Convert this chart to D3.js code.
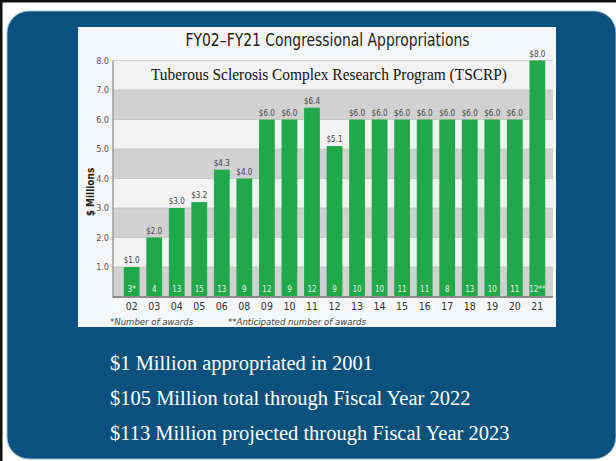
<!DOCTYPE html>
<html><head><meta charset="utf-8">
<script src="https://cdn.jsdelivr.net/npm/d3@7"></script>
<style>body{margin:0;background:#fff}svg{display:block}</style>
</head><body>
<script>
const categories = ["02","03","04","05","06","08","09","10","11","12","13","14","15","16","17","18","19","20","21"];
const values = [1.0,2.0,3.0,3.2,4.3,4.0,6.0,6.0,6.4,5.1,6.0,6.0,6.0,6.0,6.0,6.0,6.0,6.0,8.0];
const awards = ["3*","4","13","15","13","9","12","9","12","9","10","10","11","11","8","13","10","11","12**"];
const yTicks = [1,2,3,4,5,6,7,8];
const title = "FY02\u2013FY21 Congressional Appropriations";
const subtitle = "Tuberous Sclerosis Complex Research Program (TSCRP)";
const notes = ["*Number of awards", "**Anticipated number of awards"];
const bullets = ["$1 Million appropriated in 2001", "$105 Million total through Fiscal Year 2022", "$113 Million projected through Fiscal Year 2023"];

const W = 616, H = 461;
const svg = d3.select("body").append("svg").attr("width", W).attr("height", H);

// frame
svg.append("rect").attr("x",0).attr("y",0).attr("width",W).attr("height",H).attr("fill","#fff");
svg.append("rect").attr("x",0).attr("y",0).attr("width",W).attr("height",2.5).attr("fill","#111");
svg.append("rect").attr("x",0).attr("y",0).attr("width",2.5).attr("height",H).attr("fill","#111");
svg.append("rect").attr("x",7).attr("y",11).attr("width",609).attr("height",448).attr("rx",22)
  .attr("fill","#0a527d").attr("stroke","#8fbfd2").attr("stroke-width",1);

// chart panel
svg.append("rect").attr("x",78).attr("y",27).attr("width",478).attr("height",300).attr("fill","#f5f6f8");

const condensed = "'Liberation Sans Narrow','DejaVu Sans Condensed','Roboto Condensed',Arial,sans-serif";
const serif = "'Liberation Serif','Times New Roman',serif";

const plotL = 113, plotR = 553;
const y = d3.scaleLinear().domain([0, 8]).range([296.5, 60.5]);
const x = d3.scaleBand().domain(categories).range([117, 552]).padding(0.3);

// bands
const bandIdx = d3.range(0, 8);
svg.append("g").selectAll("rect").data(bandIdx).join("rect")
  .attr("x", plotL).attr("width", plotR - plotL)
  .attr("y", d => y(d + 1)).attr("height", d => y(d) - y(d + 1))
  .attr("fill", d => d % 2 === 0 ? "#d1d1d1" : "#f2f2f2");
svg.append("g").selectAll("line").data(yTicks).join("line")
  .attr("x1", plotL).attr("x2", plotR).attr("y1", d => y(d)).attr("y2", d => y(d))
  .attr("stroke", "#c2c2c2").attr("stroke-width", 0.8);

// subtitle
svg.append("text").attr("x", 329).attr("y", 80).attr("text-anchor","middle")
  .attr("font-family", serif).attr("font-size", 17).attr("fill","#111")
  .attr("textLength", 356).attr("lengthAdjust","spacingAndGlyphs").text(subtitle);

// title
svg.append("text").attr("x", 327.5).attr("y", 46).attr("text-anchor","middle")
  .attr("font-family", condensed).attr("font-size", 17).attr("fill","#222")
  .attr("textLength", 284).attr("lengthAdjust","spacingAndGlyphs").text(title);

// bars
svg.append("g").selectAll("rect").data(values).join("rect")
  .attr("x", (d,i) => x(categories[i])).attr("width", x.bandwidth())
  .attr("y", d => y(d)).attr("height", d => y(0) - y(d))
  .attr("fill", "#20a84a");

// value labels
svg.append("g").selectAll("text").data(values).join("text")
  .attr("x", (d,i) => x(categories[i]) + x.bandwidth()/2).attr("y", d => y(d) - 4)
  .attr("text-anchor","middle").attr("font-family", condensed).attr("font-size", 8)
  .attr("fill","#444").text(d => "$" + d.toFixed(1));

// award labels
svg.append("g").selectAll("text").data(awards).join("text")
  .attr("x", (d,i) => x(categories[i]) + x.bandwidth()/2).attr("y", y(0) - 5)
  .attr("text-anchor","middle").attr("font-family", condensed).attr("font-size", 8)
  .attr("fill","#e2f7e2").text(d => d);

// y axis
const yAxis = svg.append("g").attr("transform", `translate(${plotL},0)`)
  .call(d3.axisLeft(y).tickValues(yTicks).tickFormat(d3.format(".1f")).tickSize(0).tickPadding(4));
yAxis.select(".domain").remove();
yAxis.selectAll("text").attr("font-family", condensed).attr("font-size", 9).attr("fill","#555");
svg.append("line").attr("x1", plotL).attr("x2", plotL).attr("y1", y(8)).attr("y2", y(0) + 1)
  .attr("stroke","#9a9a9a").attr("stroke-width",1.5);

// x axis
const xAxis = svg.append("g").attr("transform", `translate(0,${y(0)})`)
  .call(d3.axisBottom(x).tickSize(0).tickPadding(6));
xAxis.select(".domain").remove();
xAxis.selectAll("text").attr("font-family", condensed).attr("font-size", 10.5).attr("fill","#333");
svg.append("line").attr("x1", plotL).attr("x2", plotR).attr("y1", y(0) + 0.5).attr("y2", y(0) + 0.5)
  .attr("stroke","#8a8a8a").attr("stroke-width",2);

// y title
svg.append("text").attr("transform", "translate(94,192) rotate(-90)").attr("text-anchor","middle")
  .attr("font-family", condensed).attr("font-size", 10).attr("font-weight","bold").attr("fill","#222")
  .text("$ Millions");

// footnotes
svg.append("text").attr("x", 110).attr("y", 325).attr("font-family", condensed).attr("font-size", 9.5)
  .attr("font-style","italic").attr("fill","#444").text(notes[0]);
svg.append("text").attr("x", 228).attr("y", 325).attr("font-family", condensed).attr("font-size", 9.5)
  .attr("font-style","italic").attr("fill","#444").text(notes[1]);

// bullets
svg.append("g").selectAll("text").data(bullets).join("text")
  .attr("x", 110).attr("y", (d,i) => 370 + i * 35)
  .attr("font-family", serif).attr("font-size", 20.5).attr("fill","#fff").text(d => d);
</script>
</body></html>
